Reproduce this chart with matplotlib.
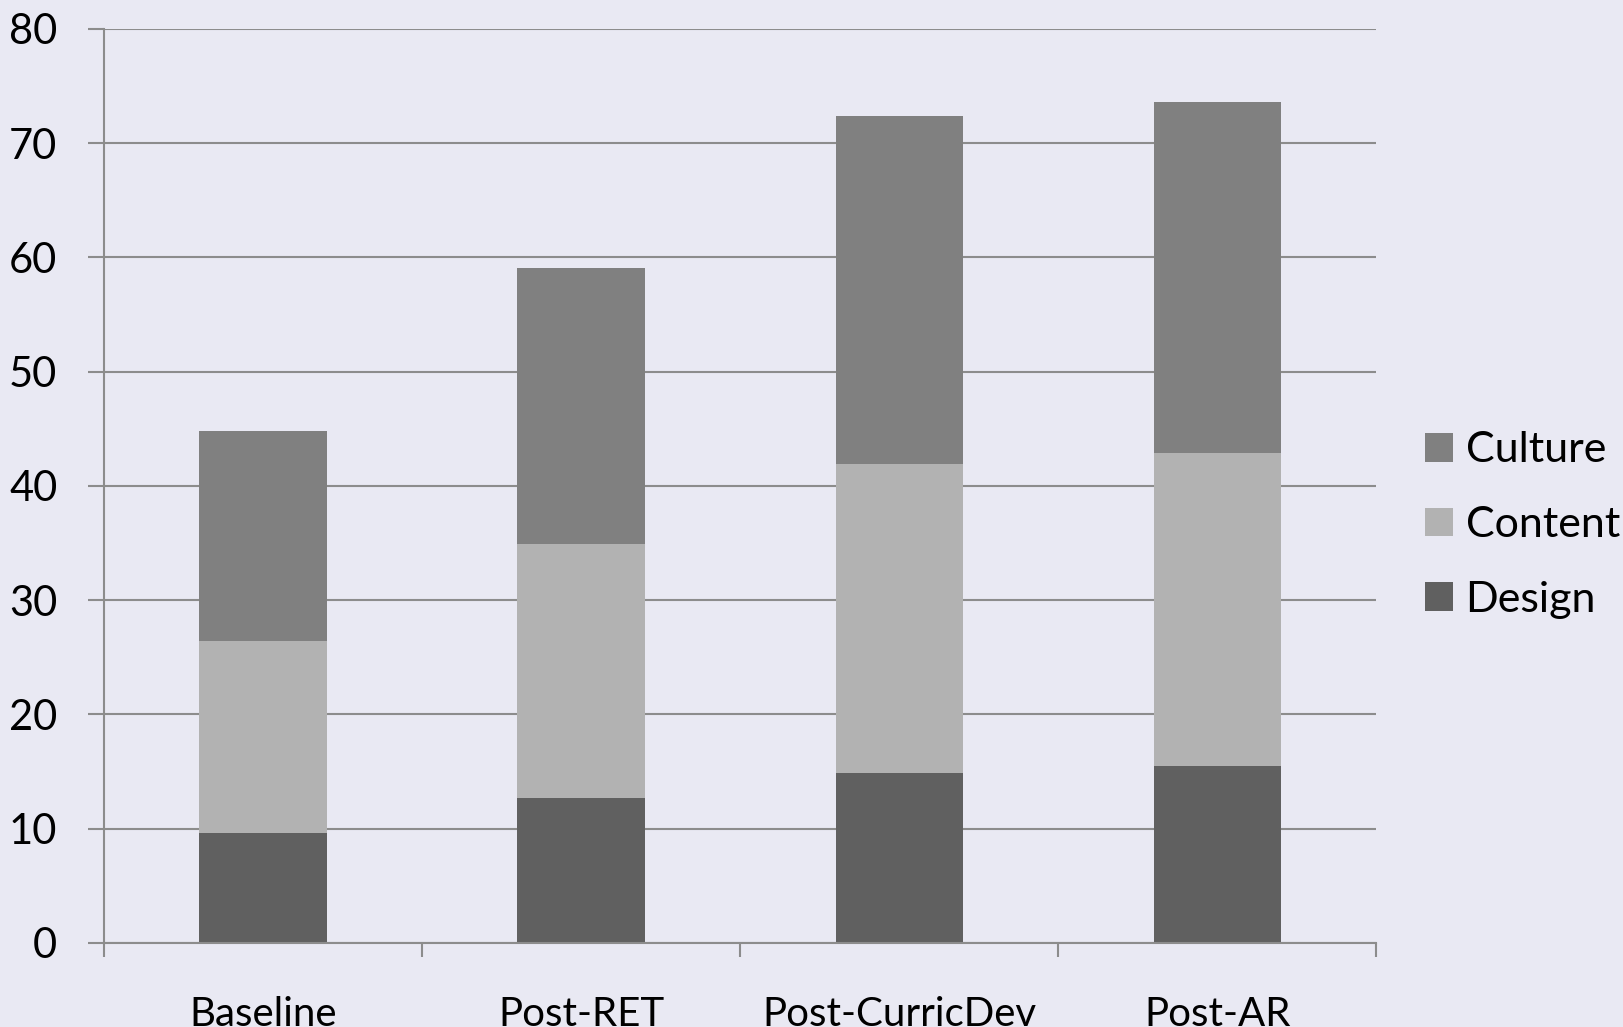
import numpy as np
import matplotlib.pyplot as plt

# Данные
categories = ['Baseline', 'Post-RET', 'Post-CurricDev', 'Post-AR']
design = [9.6, 12.7, 14.9, 15.5]
content = [16.8, 22.2, 27.0, 27.4]
culture = [18.4, 24.2, 30.5, 30.7]

plt.rcParams['font.family'] = ['Lato', 'DejaVu Sans']

bg = '#e9e9f3'
grid_c = '#8c8c8c'

fig = plt.figure(figsize=(16.23, 10.27), dpi=100, facecolor=bg)
ax = fig.add_axes([0.064, 0.082, 0.784, 0.890], facecolor=bg)

x = np.arange(len(categories))
w = 0.4
b1 = np.array(design)
b2 = b1 + np.array(content)
ax.bar(x, design, w, color='#606060', label='Design', zorder=3)
ax.bar(x, content, w, bottom=b1, color='#b2b2b2', label='Content', zorder=3)
ax.bar(x, culture, w, bottom=b2, color='#808080', label='Culture', zorder=3)

ax.set_xlim(-0.5, len(categories) - 0.5)
ax.set_ylim(0, 80)
ax.set_yticks(range(0, 81, 10))
ax.yaxis.grid(True, color=grid_c, linewidth=1.5, zorder=1)

for s in ['top', 'right']:
    ax.spines[s].set_visible(False)
for s in ['left', 'bottom']:
    ax.spines[s].set_color(grid_c)
    ax.spines[s].set_linewidth(1.5)
    ax.spines[s].set_zorder(4)

ax.set_xticks(x)
ax.set_xticklabels(categories)
ax.set_xticks(np.arange(-0.5, len(categories)), minor=True)
ax.tick_params(axis='x', which='major', length=0, pad=38, labelsize=29)
ax.tick_params(axis='x', which='minor', length=10, width=1.5, color=grid_c)
ax.tick_params(axis='y', length=11.5, width=1.5, color=grid_c, pad=22, labelsize=30)

h, l = ax.get_legend_handles_labels()
ax.legend(h[::-1], l[::-1], loc='center left', bbox_to_anchor=(1.038, 0.457),
          frameon=False, fontsize=31, handlelength=0.65, handleheight=0.65,
          handletextpad=0.3, labelspacing=0.85, borderaxespad=0, borderpad=0)

plt.savefig('out.png', dpi=100, facecolor=bg)
